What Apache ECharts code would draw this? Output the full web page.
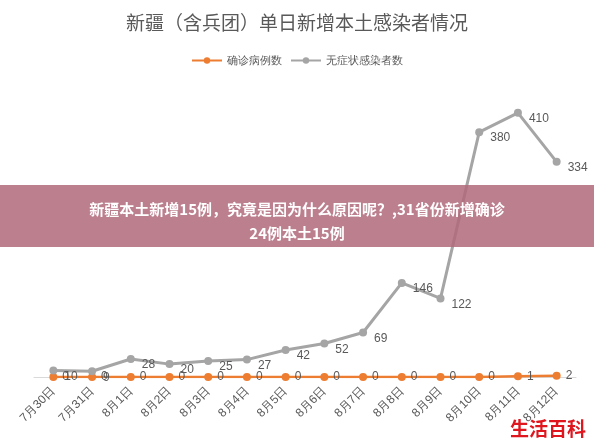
<!DOCTYPE html><html><head><meta charset="utf-8"><script src="https://cdn.jsdelivr.net/npm/echarts@6/dist/echarts.min.js"></script></head><body style="margin:0"><div id="c" style="width:594px;height:444px"></div><script>
const categories=['7月30日','7月31日','8月1日','8月2日','8月3日','8月4日','8月5日','8月6日','8月7日','8月8日','8月9日','8月10日','8月11日','8月12日'];
const confirmed=[0,0,0,0,0,0,0,0,0,0,0,0,1,2];
const asymptomatic=[10,9,28,20,25,27,42,52,69,146,122,380,410,334];
const c=echarts.init(document.getElementById('c'));
c.setOption({backgroundColor:'#fff',
title:{text:'新疆（含兵团）单日新增本土感染者情况',left:'center',top:8,textStyle:{fontSize:19,fontWeight:'normal',color:'#595959',fontFamily:'Noto Sans CJK SC'}},
legend:{top:50,left:'center',itemWidth:30,itemHeight:8,textStyle:{fontSize:11,color:'#595959'},data:['确诊病例数','无症状感染者数']},
grid:{left:34,right:18,top:80,bottom:67},
xAxis:{type:'category',data:categories,axisTick:{show:false},axisLine:{lineStyle:{color:'#d9d9d9'}},axisLabel:{rotate:45,color:'#595959',fontSize:12,interval:0,margin:12}},
yAxis:{type:'value',min:0,max:461,show:false,splitLine:{show:false}},
series:[
{name:'确诊病例数',type:'line',data:confirmed,symbol:'circle',symbolSize:8,z:3,itemStyle:{color:'#ed7d31'},lineStyle:{width:2.5,color:'#ed7d31'},label:{show:true,position:'right',color:'#595959',fontSize:12}},
{name:'无症状感染者数',type:'line',data:asymptomatic,symbol:'circle',symbolSize:8,itemStyle:{color:'#a5a5a5'},lineStyle:{width:3,color:'#a5a5a5'},label:{show:true,position:'right',offset:[2,6],color:'#595959',fontSize:12}}],
graphic:[
{type:'rect',shape:{x:0,y:185,width:594,height:62},style:{fill:'rgba(176,104,122,0.85)'},z:100},
{type:'text',x:297,y:197,z:101,style:{text:'新疆本土新增15例，究竟是因为什么原因呢？,31省份新增确诊\n24例本土15例',fill:'#fff',font:'bold 15px "Noto Sans CJK SC"',align:'center',lineHeight:24}},
{type:'text',right:8,bottom:6,z:101,style:{text:'生活百科',fill:'#e0161e',font:'bold 19px "Noto Sans CJK SC"'}}]
});
</script></body></html>
